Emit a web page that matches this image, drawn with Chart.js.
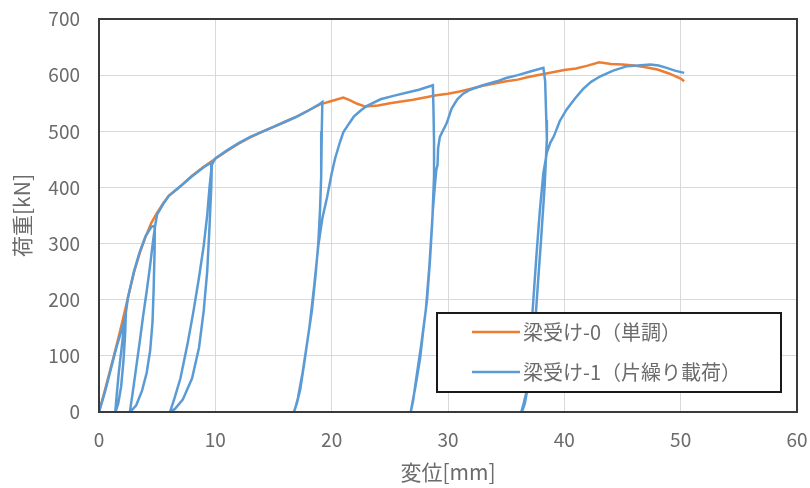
<!DOCTYPE html>
<html>
<head>
<meta charset="utf-8">
<script src="https://cdn.jsdelivr.net/npm/chart.js@4/dist/chart.umd.min.js"></script>
<style>
  html, body { margin: 0; padding: 0; background: #fff; }
  #wrap { width: 810px; height: 488px; }
</style>
</head>
<body>
<div id="wrap"><canvas id="grafica"></canvas></div>
<script>
// 梁受け-0（単調）
const monoX = [0, 0.5, 1, 1.5, 2, 2.5, 3, 3.5, 4, 4.5, 5, 5.5, 6, 7, 8, 9, 10, 11, 12, 13, 14, 15, 16, 17, 18, 19, 20, 21,
  21.5, 22.2, 22.9, 24, 25, 26, 27, 28, 29, 30, 31, 32, 33, 34, 35, 36, 37, 38, 39, 40, 41, 42, 43, 44, 45, 46, 47, 48, 49, 50, 50.3];
const monoY = [0, 38, 78, 118, 160, 205, 248, 283, 312, 337, 355, 371, 385, 402, 421, 437, 451, 465, 478, 489, 499, 508, 517, 526, 537, 548, 554, 560,
  556, 549, 544, 546, 550, 553, 556, 560, 564, 567, 571, 576, 581, 585, 589, 592, 597, 601, 605, 609, 612, 617, 623, 620, 619, 617, 614, 610, 603, 594, 589];

// 梁受け-1（片繰り載荷）
const cycX = [
  0, 0.5, 1, 1.5, 2, 2.3,
  2.25, 2.1, 1.9, 1.65, 1.45, 1.4,
  1.5, 1.7, 1.95, 2.2, 2.5,
  3, 3.5, 4, 4.5, 4.8,
  4.78, 4.7, 4.6, 4.4, 4.1, 3.7, 3.2, 2.8, 2.65,
  2.9, 3.2, 3.5, 3.8, 4.1, 4.4, 4.65, 4.85, 5,
  5.5, 6, 7, 8, 9, 9.7,
  9.65, 9.5, 9.3, 9.0, 8.6, 8.0, 7.2, 6.5, 6.1,
  6.5, 7.0, 7.6, 8.1, 8.6, 9.0, 9.3, 9.5, 9.7, 10,
  11, 12, 13, 14, 15, 16, 17, 18, 19, 19.2,
  19.15, 19.1, 19.0, 18.85, 18.6, 18.3, 17.9, 17.5, 17.1, 16.85, 16.75,
  17.0, 17.3, 17.7, 18.1, 18.5, 18.85, 19.2, 19.6, 20.0, 20.3, 20.7, 21.0, 21.5, 21.9, 22.5, 23.0, 24.2, 25.3, 26.5, 27.5, 28.7,
  28.75, 28.8, 28.8, 28.65, 28.45, 28.2, 27.9, 27.6, 27.2, 26.9, 26.8,
  27.0, 27.3, 27.7, 28.1, 28.4, 28.7, 28.9, 29.0, 29.1, 29.15, 29.3, 29.9, 30.3, 30.8, 31.3, 31.9, 33, 34.2, 35, 36, 37, 38.2,
  38.35, 38.45, 38.5, 38.3, 38.0, 37.7, 37.4, 37.0, 36.6, 36.4, 36.3,
  36.5, 36.8, 37.2, 37.6, 37.9, 38.2, 38.5, 38.8, 39.1, 39.6, 40.2, 40.9, 41.6, 42.3, 43.1, 44.2, 45.4, 46.3, 47.4, 48.1, 48.8, 49.5, 50.3
];
const cycY = [
  0, 35, 75, 115, 150, 172,
  140, 90, 45, 15, 2, 0,
  25, 70, 115, 160, 205,
  250, 285, 313, 330, 332,
  290, 220, 160, 110, 70, 38, 12, 3, 0,
  35, 80, 125, 172, 215, 262, 305, 335, 352,
  370, 385, 402, 420, 436, 445,
  400, 330, 250, 180, 115, 60, 22, 5, 0,
  25, 60, 120, 177, 240, 296, 350, 400, 440, 452,
  466, 479, 490, 499, 508, 517, 526, 537, 549, 552,
  500, 420, 360, 300, 240, 180, 125, 70, 25, 5, 0,
  15, 40, 95, 153, 225, 296, 345, 382, 425, 452, 480, 498, 514, 526, 537, 545, 557, 563, 569, 574, 582,
  540, 480, 420, 340, 270, 200, 150, 95, 45, 12, 0,
  20, 64, 120, 183, 260, 360, 410, 432, 440, 470, 490, 515, 540, 557, 567, 574, 582, 589, 595, 600, 606, 613,
  590, 520, 486, 400, 307, 220, 129, 60, 15, 3, 0,
  15, 40, 159, 278, 360, 426, 462, 480, 491, 518, 539, 558, 575, 588, 598, 608, 616, 617, 619, 617, 613, 608, 604
];

const xTicks = [0, 10, 20, 30, 40, 50, 60];
const yTicks = [0, 100, 200, 300, 400, 500, 600, 700];

const etiquetas = ['梁受け-0（単調）', '梁受け-1（片繰り載荷）'];
const colores = ['#ED7D31', '#5B9BD5'];

const FUENTE = "'Noto Sans CJK JP', 'Noto Sans', sans-serif";
const GRIS = '#6b6b6b';

function zip(xs, ys) {
    return xs.map((x, i) => ({ x: x, y: ys[i] }));
}

// marco negro del área de trazado + leyenda dentro del gráfico
const marcoYLeyenda = {
    id: 'marcoYLeyenda',
    afterDraw(chart) {
        const ctx = chart.ctx;
        const a = chart.chartArea;
        ctx.save();
        ctx.strokeStyle = '#3a3a3a';
        ctx.lineWidth = 2;
        ctx.strokeRect(a.left, a.top, a.right - a.left, a.bottom - a.top);

        // leyenda
        const w = 344, h = 79;
        const lx = a.right - 16 - w;
        const ly = a.bottom - 20 - h;
        ctx.fillStyle = '#fff';
        ctx.fillRect(lx, ly, w, h);
        ctx.strokeStyle = '#1a1a1a';
        ctx.lineWidth = 2;
        ctx.strokeRect(lx, ly, w, h);

        ctx.font = '20px ' + FUENTE;
        ctx.textBaseline = 'middle';
        ctx.textAlign = 'left';
        etiquetas.forEach((txt, i) => {
            const yy = ly + 19 + i * 40;
            ctx.strokeStyle = colores[i];
            ctx.lineWidth = 2.5;
            ctx.beginPath();
            ctx.moveTo(lx + 35, yy);
            ctx.lineTo(lx + 83, yy);
            ctx.stroke();
            ctx.fillStyle = GRIS;
            ctx.fillText(txt, lx + 86, yy);
        });
        ctx.restore();
    }
};

new Chart(document.getElementById('grafica'), {
    type: 'scatter',
    data: {
        datasets: [
            {
                label: etiquetas[0],
                data: zip(monoX, monoY),
                showLine: true,
                borderColor: colores[0],
                backgroundColor: colores[0],
                borderWidth: 2.5,
                pointRadius: 0,
                tension: 0,
                order: 2
            },
            {
                label: etiquetas[1],
                data: zip(cycX, cycY),
                showLine: true,
                borderColor: colores[1],
                backgroundColor: colores[1],
                borderWidth: 2.5,
                pointRadius: 0,
                tension: 0,
                order: 1
            }
        ]
    },
    options: {
        responsive: true,
        maintainAspectRatio: false,
        animation: false,
        layout: { padding: { top: 19, right: 13, left: 0, bottom: 0 } },
        plugins: {
            legend: { display: false },
            tooltip: { enabled: false }
        },
        scales: {
            x: {
                type: 'linear',
                min: 0, max: 60,
                afterBuildTicks: s => { s.ticks = xTicks.map(v => ({ value: v })); },
                afterFit: s => { s.height = 76; s.paddingLeft = 0; s.paddingRight = 0; },
                grid: { color: '#d9d9d9', lineWidth: 1, drawTicks: false },
                border: { display: false },
                ticks: { color: GRIS, padding: 16, font: { family: FUENTE, size: 19 } },
                title: { display: true, text: '変位[mm]', color: GRIS, padding: 3, font: { family: FUENTE, size: 21 } }
            },
            y: {
                type: 'linear',
                min: 0, max: 700,
                afterBuildTicks: s => { s.ticks = yTicks.map(v => ({ value: v })); },
                afterFit: s => { s.width = 99; s.paddingTop = 0; s.paddingBottom = 0; },
                grid: { color: '#d9d9d9', lineWidth: 1, drawTicks: false },
                border: { display: false },
                ticks: { color: GRIS, padding: 19, font: { family: FUENTE, size: 19 } },
                title: { display: true, text: '荷重[kN]', color: GRIS, padding: 9, font: { family: FUENTE, size: 21 } }
            }
        }
    },
    plugins: [marcoYLeyenda]
});
</script>
</body>
</html>
